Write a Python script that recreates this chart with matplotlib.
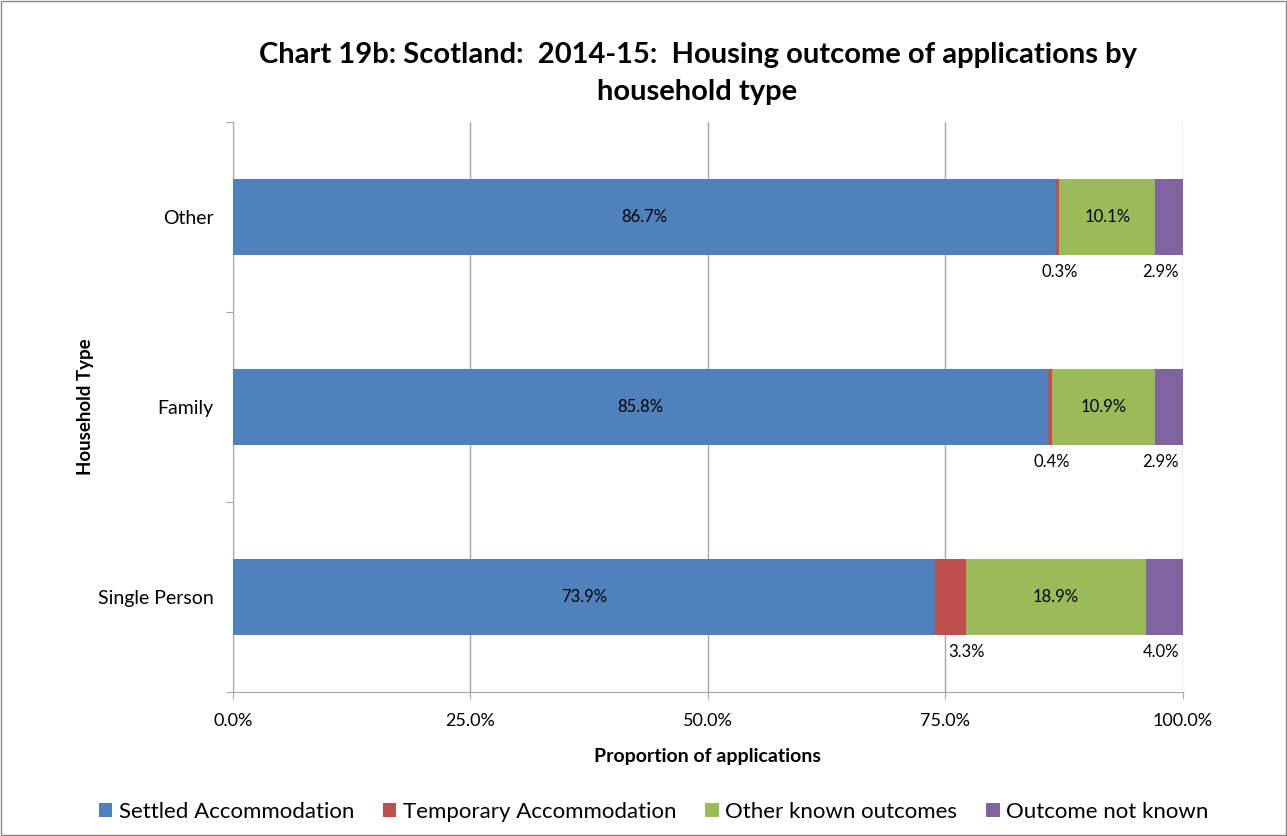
import matplotlib

matplotlib.use("Agg")
import matplotlib.pyplot as plt
from matplotlib.patches import Rectangle
from matplotlib.ticker import FuncFormatter

plt.rcParams["font.family"] = ["Lato", "DejaVu Sans"]

household_types = ["Single Person", "Family", "Other"]
settled = [73.9, 85.8, 86.7]
temporary = [3.3, 0.4, 0.3]
other_known = [18.9, 10.9, 10.1]
not_known = [4.0, 2.9, 2.9]

series = [
    ("Settled Accommodation", settled, "#4F81BD"),
    ("Temporary Accommodation", temporary, "#C0504D"),
    ("Other known outcomes", other_known, "#9BBB59"),
    ("Outcome not known", not_known, "#8064A2"),
]

fig = plt.figure(figsize=(12.87, 8.36), dpi=100)
ax = fig.add_axes([0.181, 0.172, 0.738, 0.682])
fig.patches.append(Rectangle((0.001, 0.001), 0.998, 0.998, transform=fig.transFigure,
                             fill=False, edgecolor="#888888", linewidth=1.0))

bar_h = 0.4
ypos = list(range(len(household_types)))
left = [0.0] * len(household_types)
for name, vals, color in series:
    ax.barh(ypos, vals, left=left, height=bar_h, color=color, label=name, zorder=3)
    for i, v in enumerate(vals):
        start = left[i]
        if name in ("Settled Accommodation", "Other known outcomes"):
            ax.text(start + v / 2, i, f"{v:.1f}%", ha="center", va="center", fontsize=12, zorder=4)
        elif name == "Temporary Accommodation":
            ax.text(start + v, i - bar_h / 2 - 0.09, f"{v:.1f}%", ha="center", va="center", fontsize=12)
        else:
            ax.text(99.6, i - bar_h / 2 - 0.09, f"{v:.1f}%", ha="right", va="center", fontsize=12)
    left = [l + v for l, v in zip(left, vals)]

ax.set_xlim(0, 100)
ax.set_ylim(-0.5, 2.5)
ax.set_xticks([0, 25, 50, 75, 100])
ax.xaxis.set_major_formatter(FuncFormatter(lambda x, _: f"{x:.1f}%"))
ax.grid(axis="x", color="#A6A6A6", linewidth=1.0, zorder=0)

# category boundaries get tick marks, labels sit between them
ax.set_yticks([-0.5, 0.5, 1.5, 2.5])
ax.set_yticklabels([])
ax.set_yticks(ypos, minor=True)
ax.set_yticklabels(household_types, minor=True)
ax.tick_params(axis="y", which="major", length=5, color="#A6A6A6")
ax.tick_params(axis="y", which="minor", length=0, labelsize=14, pad=14)
ax.tick_params(axis="x", length=5, color="#A6A6A6", labelsize=13, pad=10)

for side in ("top", "right"):
    ax.spines[side].set_visible(False)
for side in ("left", "bottom"):
    ax.spines[side].set_color("#A6A6A6")

ax.set_xlabel("Proportion of applications", fontsize=14, fontweight="bold", labelpad=14)
ax.set_ylabel("Household Type", fontsize=13.5, fontweight="bold", labelpad=3)
fig.text(0.542, 0.912, "Chart 19b: Scotland:  2014-15:  Housing outcome of applications by\nhousehold type",
         ha="center", va="center", fontsize=21, fontweight="bold", linespacing=1.5)

fig.legend(loc="center", bbox_to_anchor=(0.508, 0.029), ncol=4, frameon=False, fontsize=16,
           handlelength=0.6, handleheight=0.6, handletextpad=0.3, columnspacing=1.3)

fig.savefig("out.png", dpi=100, facecolor="white")
